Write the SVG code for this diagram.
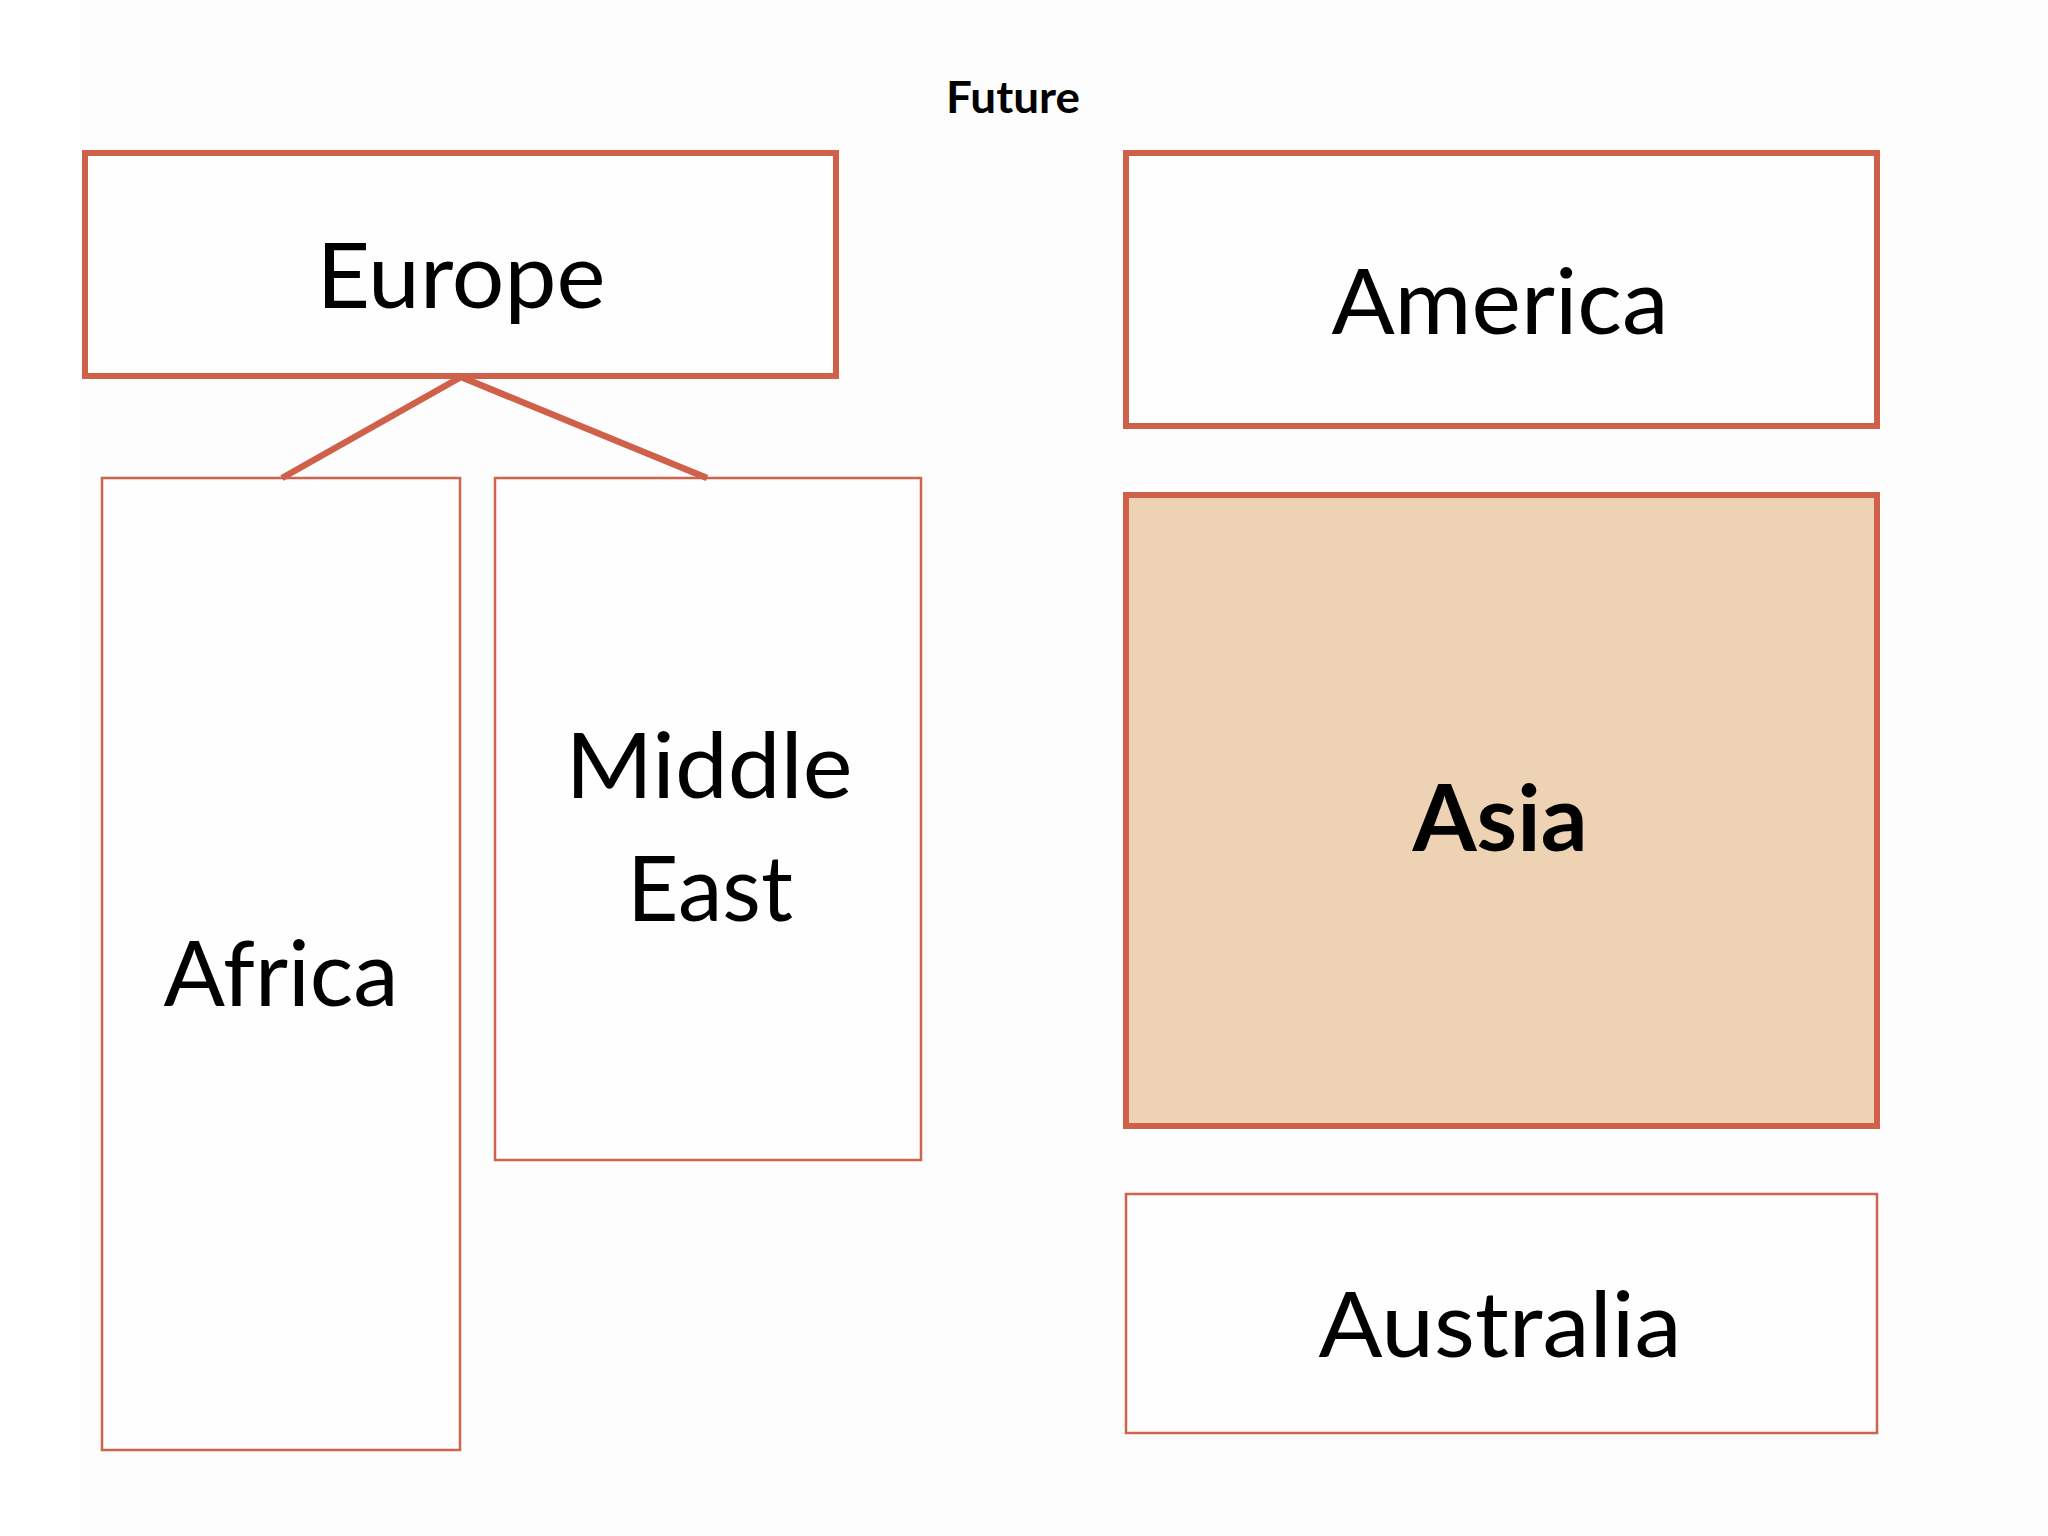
<svg xmlns="http://www.w3.org/2000/svg" width="2048" height="1536" viewBox="0 0 2048 1536">
<style>
.thick{fill:#fefefe;stroke:#cf614a;stroke-width:6}
.thin{fill:#fefefe;stroke:#d0634b;stroke-width:2.5}
.asia{fill:#eed2b4;stroke:#cf614a;stroke-width:6}
.lbl{font-family:Lato,"Open Sans","Liberation Sans",sans-serif;font-size:92px;fill:#000;text-anchor:middle}
.conn{stroke:#cf614a;stroke-width:6.5;fill:none}
</style>
<rect x="0" y="0" width="2048" height="1536" fill="#ffffff"/>
<rect x="80" y="0" width="1968" height="1536" fill="#fdfdfd"/>
<text x="1013" y="113" font-family="Lato,'Open Sans','Liberation Sans',sans-serif" font-weight="bold" font-size="43" text-anchor="middle" textLength="134" lengthAdjust="spacingAndGlyphs">Future</text>
<g id="europe">
<rect class="thick" x="85" y="153" width="751" height="223"/>
<text class="lbl" x="461" y="308" textLength="289" lengthAdjust="spacingAndGlyphs">Europe</text>
</g>
<g id="america">
<rect class="thick" x="1126" y="153" width="751" height="273"/>
<text class="lbl" x="1500" y="334" textLength="337" lengthAdjust="spacingAndGlyphs">America</text>
</g>
<g id="asia">
<rect class="asia" x="1126" y="495" width="751" height="631"/>
<text class="lbl" x="1500" y="851" font-weight="bold" textLength="175" lengthAdjust="spacingAndGlyphs">Asia</text>
</g>
<g id="australia">
<rect class="thin" x="1126" y="1194" width="751" height="239"/>
<text class="lbl" x="1500" y="1357" textLength="363" lengthAdjust="spacingAndGlyphs">Australia</text>
</g>
<g id="africa">
<rect class="thin" x="102" y="478" width="358" height="972"/>
<text class="lbl" x="281" y="1006" textLength="235" lengthAdjust="spacingAndGlyphs">Africa</text>
</g>
<g id="middle-east">
<rect class="thin" x="495" y="478" width="426" height="682"/>
<text class="lbl" x="709" y="798" textLength="287" lengthAdjust="spacingAndGlyphs">Middle</text>
<text class="lbl" x="710" y="921" textLength="166" lengthAdjust="spacingAndGlyphs">East</text>
</g>
<g id="connectors">
<line class="conn" x1="461" y1="377" x2="282" y2="478"/>
<line class="conn" x1="461" y1="377" x2="707" y2="478"/>
</g>
</svg>
